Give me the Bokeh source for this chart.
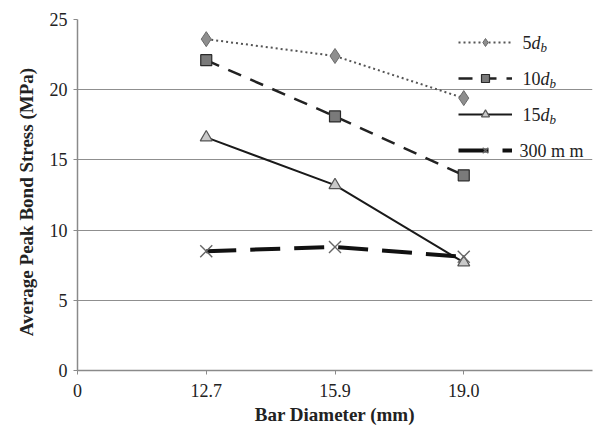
from bokeh.plotting import figure
from bokeh.models import Range1d, FixedTicker, Legend, LegendItem
from bokeh.core.properties import value
from bokeh.embed import file_html
from bokeh.resources import INLINE

# ---- data ----
diam_labels = ["12.7", "15.9", "19.0"]
x_pos = [1, 2, 3]
s5db = [23.6, 22.4, 19.4]
s10db = [22.1, 18.1, 13.9]
s15db = [16.6, 13.2, 7.7]
s300 = [8.5, 8.8, 8.1]
tick_labels = {0: "0", 1: "12.7", 2: "15.9", 3: "19.0"}
y_ticks = [0, 5, 10, 15, 20, 25]

SERIF = "Liberation Serif"

W, H = 599, 430
FL, FR, FT, FB = 77, 592, 19, 370

p = figure(width=W, height=H, output_backend="svg", toolbar_location=None,
           x_range=Range1d(0, 4), y_range=Range1d(0, 25),
           min_border_left=FL, min_border_right=W - FR,
           min_border_top=FT, min_border_bottom=H - FB)
p.outline_line_color = None
p.background_fill_color = "white"
p.border_fill_color = "white"

p.xaxis.ticker = FixedTicker(ticks=list(tick_labels.keys()))
p.xaxis.major_label_overrides = tick_labels
p.yaxis.ticker = FixedTicker(ticks=y_ticks)
for ax in (p.xaxis[0], p.yaxis[0]):
    ax.axis_line_color = "#8a8a8a"
    ax.axis_line_width = 1.5
    ax.major_tick_line_color = "#8a8a8a"
    ax.major_tick_in = 0
    ax.major_tick_out = 4
    ax.minor_tick_line_color = None
    ax.major_label_text_font = SERIF
    ax.major_label_text_font_size = "18px"
    ax.major_label_text_color = "#222222"
    ax.axis_label_text_font = SERIF
    ax.axis_label_text_font_size = "19px"
    ax.axis_label_text_font_style = "bold"
    ax.axis_label_text_color = "#222222"
p.xaxis.axis_label = "Bar Diameter (mm)"
p.yaxis.axis_label = "Average  Peak  Bond  Stress (MPa)"
p.xaxis.axis_label_standoff = 4
p.xaxis.major_label_standoff = 9
p.yaxis.axis_label_standoff = 10
p.yaxis.major_label_standoff = 6

p.xgrid.grid_line_color = None
p.ygrid.ticker = FixedTicker(ticks=y_ticks)
p.ygrid.grid_line_color = "#8f8f8f"
p.ygrid.grid_line_width = 1.2

l1 = p.line(x_pos, s5db, line_color="#555555", line_width=2, line_dash="2 3")
m1 = p.scatter(x_pos, s5db, marker="diamond", size=15, fill_color="#8e8e8e", line_color="#6a6a6a")
l2 = p.line(x_pos, s10db, line_color="#222222", line_width=2.5, line_dash="14 10")
m2 = p.scatter(x_pos, s10db, marker="square", size=11, fill_color="#7a7a7a", line_color="#2a2a2a", line_width=1.2)
l3 = p.line(x_pos, s15db, line_color="#1a1a1a", line_width=2)
m3 = p.scatter(x_pos, s15db, marker="triangle", size=12, fill_color="#c9c9c9", line_color="#555555", line_width=1.2)
l4 = p.line(x_pos, s300, line_color="#111111", line_width=4, line_dash="30 14")
m4 = p.scatter(x_pos, s300, marker="x", size=17, line_color="#666666", line_width=1.4)

legend = Legend(items=[
    LegendItem(label=" ", renderers=[l1, m1]),
    LegendItem(label=" ", renderers=[l2, m2]),
    LegendItem(label=" ", renderers=[l3, m3]),
    LegendItem(label=" ", renderers=[l4, m4]),
], location=(458 - FL, FB - 160), glyph_width=54, glyph_height=20,
    label_height=20, spacing=16, padding=0, margin=0,
    border_line_color=None, background_fill_alpha=0,
    label_text_font_size="1px", label_width=1, label_standoff=0)
p.add_layout(legend)

# legend texts (composed: number + italic d + subscript b)
def px2x(px):
    return (px - FL) / (FR - FL) * 4

def py2y(py):
    return (FB - py) / (FB - FT) * 25

leg_nums = ["5", "10", "15"]
leg_y = [42, 78, 114]
tx = 522
for num, yy in zip(leg_nums, leg_y):
    nw = 9 * len(num)
    p.text([px2x(tx)], [py2y(yy)], text=[num], text_font=value(SERIF),
           text_font_size="18px", text_baseline="middle", text_color="#222222")
    p.text([px2x(tx + nw)], [py2y(yy)], text=["d"], text_font=value(SERIF),
           text_font_size="18px", text_font_style="italic", text_baseline="middle",
           text_color="#222222")
    p.text([px2x(tx + nw + 9)], [py2y(yy + 5)], text=["b"], text_font=value(SERIF),
           text_font_size="13px", text_font_style="italic", text_baseline="middle",
           text_color="#222222")
p.text([px2x(519)], [py2y(150)], text=["300 m m"], text_font=value(SERIF),
       text_font_size="18px", text_baseline="middle", text_color="#222222")

open("out.html", "w").write(file_html(p, INLINE))
